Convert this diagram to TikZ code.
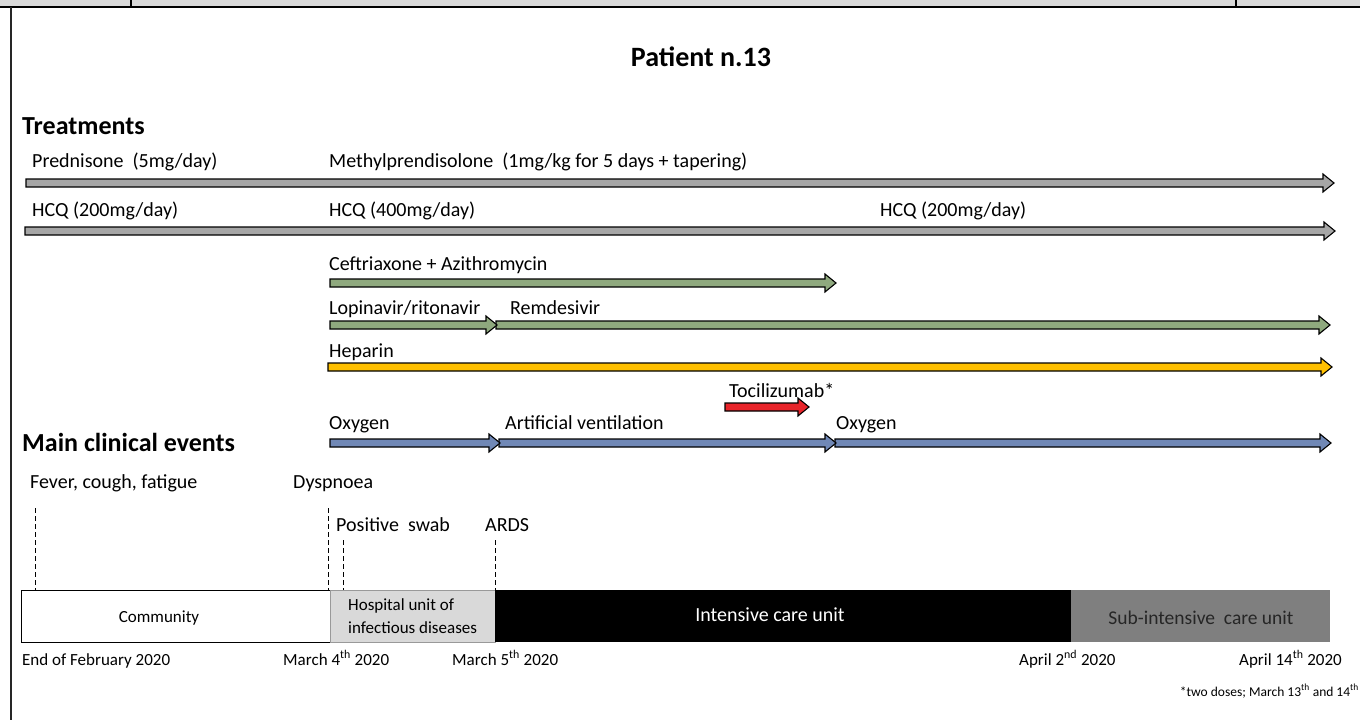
\documentclass[tikz,border=0pt]{standalone}
\usepackage{fontspec}
\setmainfont{Carlito}
\definecolor{bandgray}{HTML}{D9D9D9}
\definecolor{arrgray}{HTML}{A6A6A6}
\definecolor{arrgreen}{HTML}{8FA97E}
\definecolor{arryellow}{HTML}{FFC000}
\definecolor{arrred}{HTML}{E8242A}
\definecolor{arrblue}{HTML}{7088B6}
\definecolor{subgray}{HTML}{7F7F7F}
\definecolor{hospgray}{HTML}{D9D9D9}
\newcommand{\blockarr}[5]{% name, fill, x1, x2, y
  \draw[arrline, fill=#2] (#3,#5-4) -- (#4-11,#5-4) -- (#4-11,#5-9) -- (#4,#5) -- (#4-11,#5+9) -- (#4-11,#5+4) -- (#3,#5+4) -- cycle;
  \coordinate (#1) at (#4,#5);}
\begin{document}
\begin{tikzpicture}[x=1pt,y=-1pt,
  arrline/.style={draw=black, line width=1.1pt, line join=miter},
  lbl/.style={anchor=base west, inner sep=0pt, font=\fontsize{20}{23}\selectfont},
  head/.style={anchor=base west, inner sep=0pt, font=\fontsize{26}{30}\selectfont\bfseries},
  datelbl/.style={anchor=base west, inner sep=0pt, font=\fontsize{17}{20}\selectfont},
  unitbox/.style={anchor=north west, inner sep=0pt, minimum height=52pt},
  unittxt/.style={anchor=base, inner sep=0pt, font=\fontsize{17}{21}\selectfont},
  evline/.style={draw=black, line width=0.9pt, dash pattern=on 5pt off 3pt}]
\useasboundingbox (0,0) rectangle (1360,720);
% top band
\fill[bandgray] (0,0) rectangle (1360,6);
\draw[black, line width=2.5pt] (0,7) -- (1360,7);
\draw[black, line width=2pt] (131,0) -- (131,7);
\draw[black, line width=2pt] (1236,0) -- (1236,7);
\draw[black!85, line width=2pt] (11,7) -- (11,720);
% title and headings
\node[anchor=base, inner sep=0pt, font=\fontsize{28}{32}\selectfont\bfseries] (title) at (701,66) {Patient n.13};
\node[head] (treat) at (22,134) {Treatments};
\node[head] (mce) at (22,451) {Main clinical events};
% treatment labels
\node[lbl] (pred) at (32,167) {Prednisone\ \ (5mg/day)};
\node[lbl] (methyl) at (329,167) {Methylprendisolone\ \ (1mg/kg for 5 days + tapering)};
\node[lbl] (hcqa) at (32,216) {HCQ (200mg/day)};
\node[lbl] (hcqb) at (329,216) {HCQ (400mg/day)};
\node[lbl] (hcqc) at (880,216) {HCQ (200mg/day)};
\node[lbl] (ceft) at (329,270) {Ceftriaxone + Azithromycin};
\node[lbl] (lopi) at (329,314) {Lopinavir/ritonavir};
\node[lbl] (remd) at (510,314) {Remdesivir};
\node[lbl] (hep) at (329,357) {Heparin};
\node[lbl] (toci) at (729,397) {Tocilizumab*};
\node[lbl] (oxa) at (329,429) {Oxygen};
\node[lbl] (vent) at (505,429) {Artificial ventilation};
\node[lbl] (oxb) at (836,429) {Oxygen};
% arrows
\blockarr{a1}{arrgray}{26}{1334}{183}
\blockarr{a2}{arrgray}{25}{1335}{231}
\blockarr{a3}{arrgreen}{330}{836}{283}
\blockarr{a4}{arrgreen}{496}{1330}{325}
\blockarr{a5}{arrgreen}{330}{497}{325}
\blockarr{a6}{arryellow}{328}{1332}{367}
\blockarr{a7}{arrred}{725}{809}{407}
\blockarr{a10}{arrblue}{835}{1331}{443}
\blockarr{a9}{arrblue}{499}{836}{443}
\blockarr{a8}{arrblue}{330}{500}{443}
% clinical events
\node[lbl] (fever) at (30,488) {Fever,\ cough,\ fatigue};
\node[lbl] (dysp) at (293,488) {Dyspnoea};
\node[lbl] (swab) at (336,531) {Positive\ \ swab};
\node[lbl] (ards) at (485,531) {ARDS};
% units
\node[unitbox, draw=black, line width=1pt, fill=white, minimum width=309pt] (comm) at (21,590) {};
\node[unitbox, draw=gray!80, line width=1pt, fill=hospgray, minimum width=165pt] (hosp) at (330,590) {};
\node[unitbox, fill=black, minimum width=576pt] (icu) at (495,590) {};
\node[unitbox, fill=subgray, minimum width=259pt] (sicu) at (1071,590) {};
\node[unittxt] (commt) at (159,622.5) {Community};
\node[datelbl] (hospt1) at (348,610.5) {Hospital unit of};
\node[datelbl] (hospt2) at (348,633.5) {infectious diseases};
\node[unittxt, text=white, font=\fontsize{20}{24}\selectfont] (icut) at (770,621.5) {Intensive care unit};
\node[unittxt, text=black!85, font=\fontsize{19.5}{23}\selectfont] (sicut) at (1201,624) {Sub-intensive\ \ care unit};
% dashed event lines
\coordinate (e1) at (35,508);
\coordinate (e2) at (328,508);
\coordinate (e3) at (343,540);
\coordinate (e4) at (495,540);
\draw[evline] (e1) -- (e1 |- comm.north);
\draw[evline] (e2) -- (e2 |- comm.north);
\draw[evline] (e3) -- (e3 |- hosp.north);
\draw[evline] (e4) -- (e4 |- icu.north);
% dates
\node[datelbl] (d1) at (22,665) {End of February 2020};
\node[datelbl] (d2) at (283,665) {March 4\textsuperscript{th} 2020};
\node[datelbl] (d3) at (452,665) {March 5\textsuperscript{th} 2020};
\node[datelbl] (d4) at (1019,665) {April 2\textsuperscript{nd} 2020};
\node[datelbl] (d5) at (1239,665) {April 14\textsuperscript{th} 2020};
\node[anchor=base east, inner sep=0pt, font=\fontsize{13.5}{16}\selectfont] (foot) at (1359,696) {*two doses; March 13\textsuperscript{th} and 14\textsuperscript{th}};
\end{tikzpicture}
\end{document}
